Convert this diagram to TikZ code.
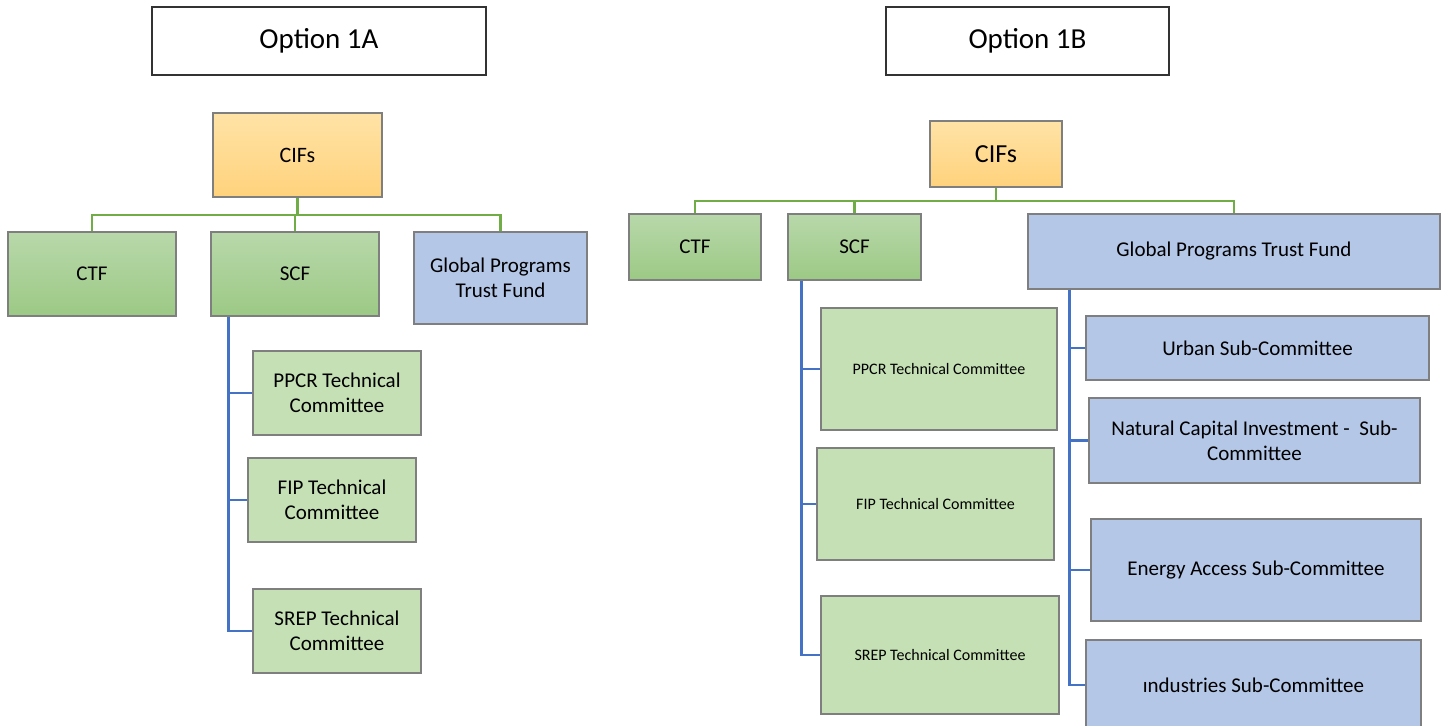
\documentclass[tikz,border=0pt]{standalone}
\usepackage{fontspec}
\setmainfont{Carlito}
\definecolor{bordergray}{HTML}{7F7F7F}
\definecolor{orangetop}{HTML}{FFE3A6}
\definecolor{orangebot}{HTML}{FFD27C}
\definecolor{greentop}{HTML}{B8D8AA}
\definecolor{greenbot}{HTML}{9CC985}
\definecolor{greenflat}{HTML}{C5E0B4}
\definecolor{blueflat}{HTML}{B4C7E7}
\definecolor{conngreen}{HTML}{70AD47}
\definecolor{connblue}{HTML}{4472C4}
\begin{document}
\begin{tikzpicture}[x=0.5pt,y=-0.5pt,
  basebox/.style={draw=bordergray, line width=0.8pt, inner sep=2pt, align=center, text=black},
  titlebox/.style={basebox, draw=black!80, fill=white, font=\fontsize{14.5}{17}\selectfont},
  cifbox/.style={basebox, top color=orangetop, bottom color=orangebot},
  fundbox/.style={basebox, top color=greentop, bottom color=greenbot},
  commbox/.style={basebox, fill=greenflat},
  gpbox/.style={basebox, fill=blueflat},
  gline/.style={draw=conngreen, line width=1.3pt},
  bline/.style={draw=connblue, line width=1.3pt},
  fa/.style={font=\fontsize{10.5}{12.6}\selectfont},
  fs/.style={font=\fontsize{8}{10}\selectfont}
]
\useasboundingbox (0,0) rectangle (1444,725);
\begin{scope}
\clip (0,0) rectangle (1444,725);
% ---------------- Option 1A ----------------
\node[titlebox, minimum width=167pt, minimum height=34pt] (optA) at (319,41) {Option 1A};
\node[cifbox, minimum width=84.5pt, minimum height=42pt, font=\fontsize{11}{13}\selectfont] (lcifs) at (297.5,155) {CIFs};
\node[fundbox, fa, minimum width=84pt, minimum height=42pt] (lctf) at (92,274) {CTF};
\node[fundbox, fa, minimum width=84pt, minimum height=42pt] (lscf) at (295,274) {SCF};
\node[gpbox, fa, minimum width=86.5pt, minimum height=46pt] (lgp) at (500.5,278) {Global Programs\\Trust Fund};
\node[commbox, fa, minimum width=84pt, minimum height=42pt] (lppcr) at (337,393) {PPCR Technical\\Committee};
\node[commbox, fa, minimum width=84pt, minimum height=42pt] (lfip) at (332,500) {FIP Technical\\Committee};
\node[commbox, fa, minimum width=84pt, minimum height=42pt] (lsrep) at (337,631) {SREP Technical\\Committee};

\draw[gline] (lcifs.south) -- ++(0,17) -| (lctf.north);
\draw[gline] (lcifs.south) -- ++(0,17) -| (lscf.north);
\draw[gline] (lcifs.south) -- ++(0,17) -| (lgp.north);
\draw[bline] ([xshift=9pt]lscf.south west) |- (lppcr.west);
\draw[bline] ([xshift=9pt]lscf.south west) |- (lfip.west);
\draw[bline] ([xshift=9pt]lscf.south west) |- (lsrep.west);

% ---------------- Option 1B ----------------
\node[titlebox, minimum width=141.5pt, minimum height=34pt] (optB) at (1027.5,41) {Option 1B};
\node[cifbox, minimum width=66pt, minimum height=33pt, font=\fontsize{13}{15}\selectfont] (rcifs) at (996,154) {CIFs};
\node[fundbox, fa, minimum width=66pt, minimum height=33pt] (rctf) at (695,247) {CTF};
\node[fundbox, fa, minimum width=66.5pt, minimum height=33pt] (rscf) at (854.5,247) {SCF};
\node[gpbox, fa, minimum width=206pt, minimum height=37.5pt] (rgp) at (1234,251.5) {Global Programs Trust Fund};
\node[commbox, fs, minimum width=118pt, minimum height=61pt] (rppcr) at (939,369) {PPCR Technical Committee};
\node[commbox, fs, minimum width=118.5pt, minimum height=56pt] (rfip) at (935.5,504) {FIP Technical Committee};
\node[commbox, fs, minimum width=119pt, minimum height=59pt] (rsrep) at (940,655) {SREP Technical Committee};
\node[gpbox, fa, minimum width=171.5pt, minimum height=32pt] (urban) at (1257.5,348) {Urban Sub-Committee};
\node[gpbox, fa, minimum width=165.5pt, minimum height=42.5pt] (natcap) at (1254.5,440.5) {Natural Capital Investment -\ \ Sub-\\Committee};
\node[gpbox, fa, minimum width=165pt, minimum height=51pt] (energy) at (1256,570) {Energy Access Sub-Committee};
\node[gpbox, fa, minimum width=167.5pt, minimum height=45pt] (indus) at (1253.5,685) {ındustries Sub-Committee};

\draw[gline] (rcifs.south) -- ++(0,13) -| (rctf.north);
\draw[gline] (rcifs.south) -- ++(0,13) -| (rscf.north);
\draw[gline] (rcifs.south) -- ++(0,13) -| (rgp.north);
\draw[bline] ([xshift=7pt]rscf.south west) |- (rppcr.west);
\draw[bline] ([xshift=7pt]rscf.south west) |- (rfip.west);
\draw[bline] ([xshift=7pt]rscf.south west) |- (rsrep.west);
\draw[bline] ([xshift=21pt]rgp.south west) |- (urban.west);
\draw[bline] ([xshift=21pt]rgp.south west) |- (natcap.west);
\draw[bline] ([xshift=21pt]rgp.south west) |- (energy.west);
\draw[bline] ([xshift=21pt]rgp.south west) |- (indus.west);
\end{scope}
\end{tikzpicture}
\end{document}
